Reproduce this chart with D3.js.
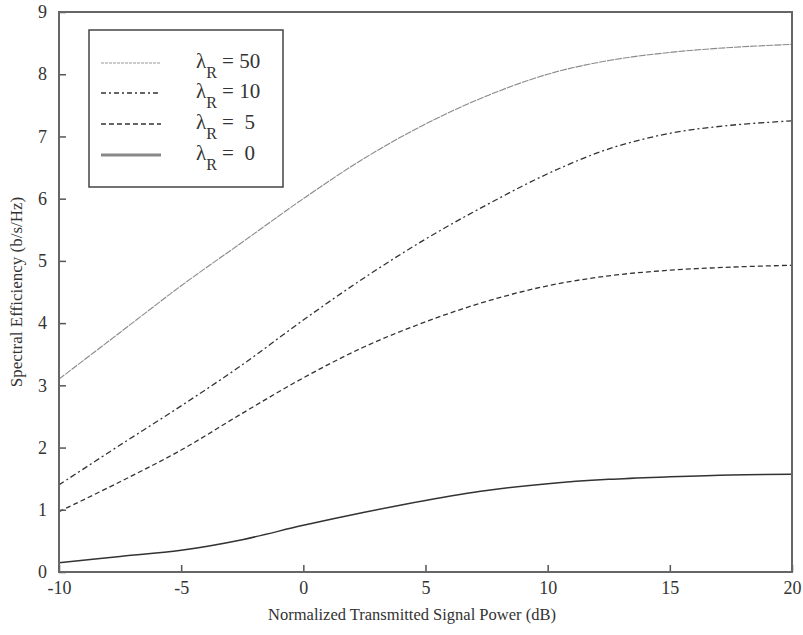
<!DOCTYPE html>
<html>
<head>
<meta charset="utf-8">
<script src="https://cdn.jsdelivr.net/npm/d3@7"></script>
<style>
  html, body { margin: 0; padding: 0; background: #fff; }
  svg text { font-family: "Liberation Serif", "DejaVu Serif", serif; fill: #333; }
</style>
</head>
<body>
<svg id="chart" width="803" height="635"></svg>
<script>
const xValues = [-10, -7.5, -5, -2.5, 0, 2.5, 5, 7.5, 10, 12.5, 15, 17.5, 20];
const lambda50 = [3.1, 3.85, 4.6, 5.3, 6.0, 6.65, 7.2, 7.65, 8.0, 8.22, 8.35, 8.43, 8.48];
const lambda10 = [1.4, 2.04, 2.67, 3.33, 4.05, 4.73, 5.35, 5.9, 6.4, 6.8, 7.05, 7.18, 7.25];
const lambda5  = [0.97, 1.45, 1.96, 2.55, 3.12, 3.62, 4.02, 4.35, 4.6, 4.76, 4.85, 4.9, 4.93];
const lambda0  = [0.15, 0.25, 0.35, 0.52, 0.75, 0.96, 1.15, 1.31, 1.42, 1.49, 1.53, 1.56, 1.57];
const seriesLabels = ["50", "10", " 5", " 0"];
const xTicks = [-10, -5, 0, 5, 10, 15, 20];
const yTicks = [0, 1, 2, 3, 4, 5, 6, 7, 8, 9];
const xTitle = "Normalized Transmitted Signal Power (dB)";
const yTitle = "Spectral Efficiency (b/s/Hz)";

const styles = [
  { stroke: "#8a8a8a", width: 1.1, dash: "7,1" },
  { stroke: "#333", width: 1.3, dash: "6,3,2,3" },
  { stroke: "#333", width: 1.3, dash: "5,3" },
  { stroke: "#333", width: 1.5, dash: null }
];
const legendStyles = [
  { stroke: "#999", width: 1.2, dash: "3,1" },
  { stroke: "#333", width: 1.3, dash: "5,3,2,3" },
  { stroke: "#333", width: 1.3, dash: "5,3" },
  { stroke: "#888", width: 3, dash: null }
];
const allSeries = [lambda50, lambda10, lambda5, lambda0];

const svg = d3.select("#chart");
const mLeft = 59, mRight = 792, mTop = 12, mBottom = 572;
const x = d3.scaleLinear().domain([-10, 20]).range([mLeft, mRight]);
const y = d3.scaleLinear().domain([0, 9]).range([mBottom, mTop]);

const line = d3.line().x(d => x(d[0])).y(d => y(d[1])).curve(d3.curveCatmullRom.alpha(0.5));

allSeries.forEach((s, i) => {
  const pts = xValues.map((xv, j) => [xv, s[j]]);
  svg.append("path")
    .attr("d", line(pts))
    .attr("fill", "none")
    .attr("stroke", styles[i].stroke)
    .attr("stroke-width", styles[i].width)
    .attr("stroke-dasharray", styles[i].dash);
});

const xAxis = d3.axisBottom(x).tickValues(xTicks).tickSizeInner(-7).tickSizeOuter(0).tickPadding(9)
  .tickFormat(d => d);
const yAxis = d3.axisLeft(y).tickValues(yTicks).tickSizeInner(-7).tickSizeOuter(0).tickPadding(12);

const gx = svg.append("g").attr("transform", `translate(0,${mBottom})`).call(xAxis);
const gy = svg.append("g").attr("transform", `translate(${mLeft},0)`).call(yAxis);
[gx, gy].forEach(g => {
  g.select(".domain").remove();
  g.selectAll(".tick line").attr("stroke", "#555").attr("stroke-width", 1.5);
  g.selectAll(".tick text").attr("font-size", 18).attr("fill", "#333")
    .style("font-family", "'Liberation Serif', serif");
});

svg.append("rect")
  .attr("x", mLeft).attr("y", mTop)
  .attr("width", mRight - mLeft).attr("height", mBottom - mTop)
  .attr("fill", "none").attr("stroke", "#666").attr("stroke-width", 2);

svg.append("text")
  .attr("x", 412).attr("y", 620)
  .attr("text-anchor", "middle").attr("font-size", 16.5)
  .text(xTitle);
svg.append("text")
  .attr("transform", `translate(22,${(mTop + mBottom) / 2}) rotate(-90)`)
  .attr("text-anchor", "middle").attr("font-size", 17)
  .text(yTitle);

const lg = svg.append("g");
lg.append("rect").attr("x", 89).attr("y", 30).attr("width", 194).attr("height", 157)
  .attr("fill", "#fff").attr("stroke", "#444").attr("stroke-width", 1.5);
const rowY = [63, 93, 124, 155];
seriesLabels.forEach((lab, i) => {
  const ls = legendStyles[i];
  lg.append("line").attr("x1", 101).attr("x2", 161).attr("y1", rowY[i]).attr("y2", rowY[i])
    .attr("stroke", ls.stroke).attr("stroke-width", ls.width).attr("stroke-dasharray", ls.dash);
  const t = lg.append("text").attr("x", 196).attr("y", rowY[i] + 5).attr("font-size", 21)
    .style("white-space", "pre");
  t.append("tspan").text("λ");
  t.append("tspan").attr("font-size", 16).attr("dy", 10).text("R");
  t.append("tspan").attr("dy", -10).text(" = " + lab);
});
</script>
</body>
</html>
